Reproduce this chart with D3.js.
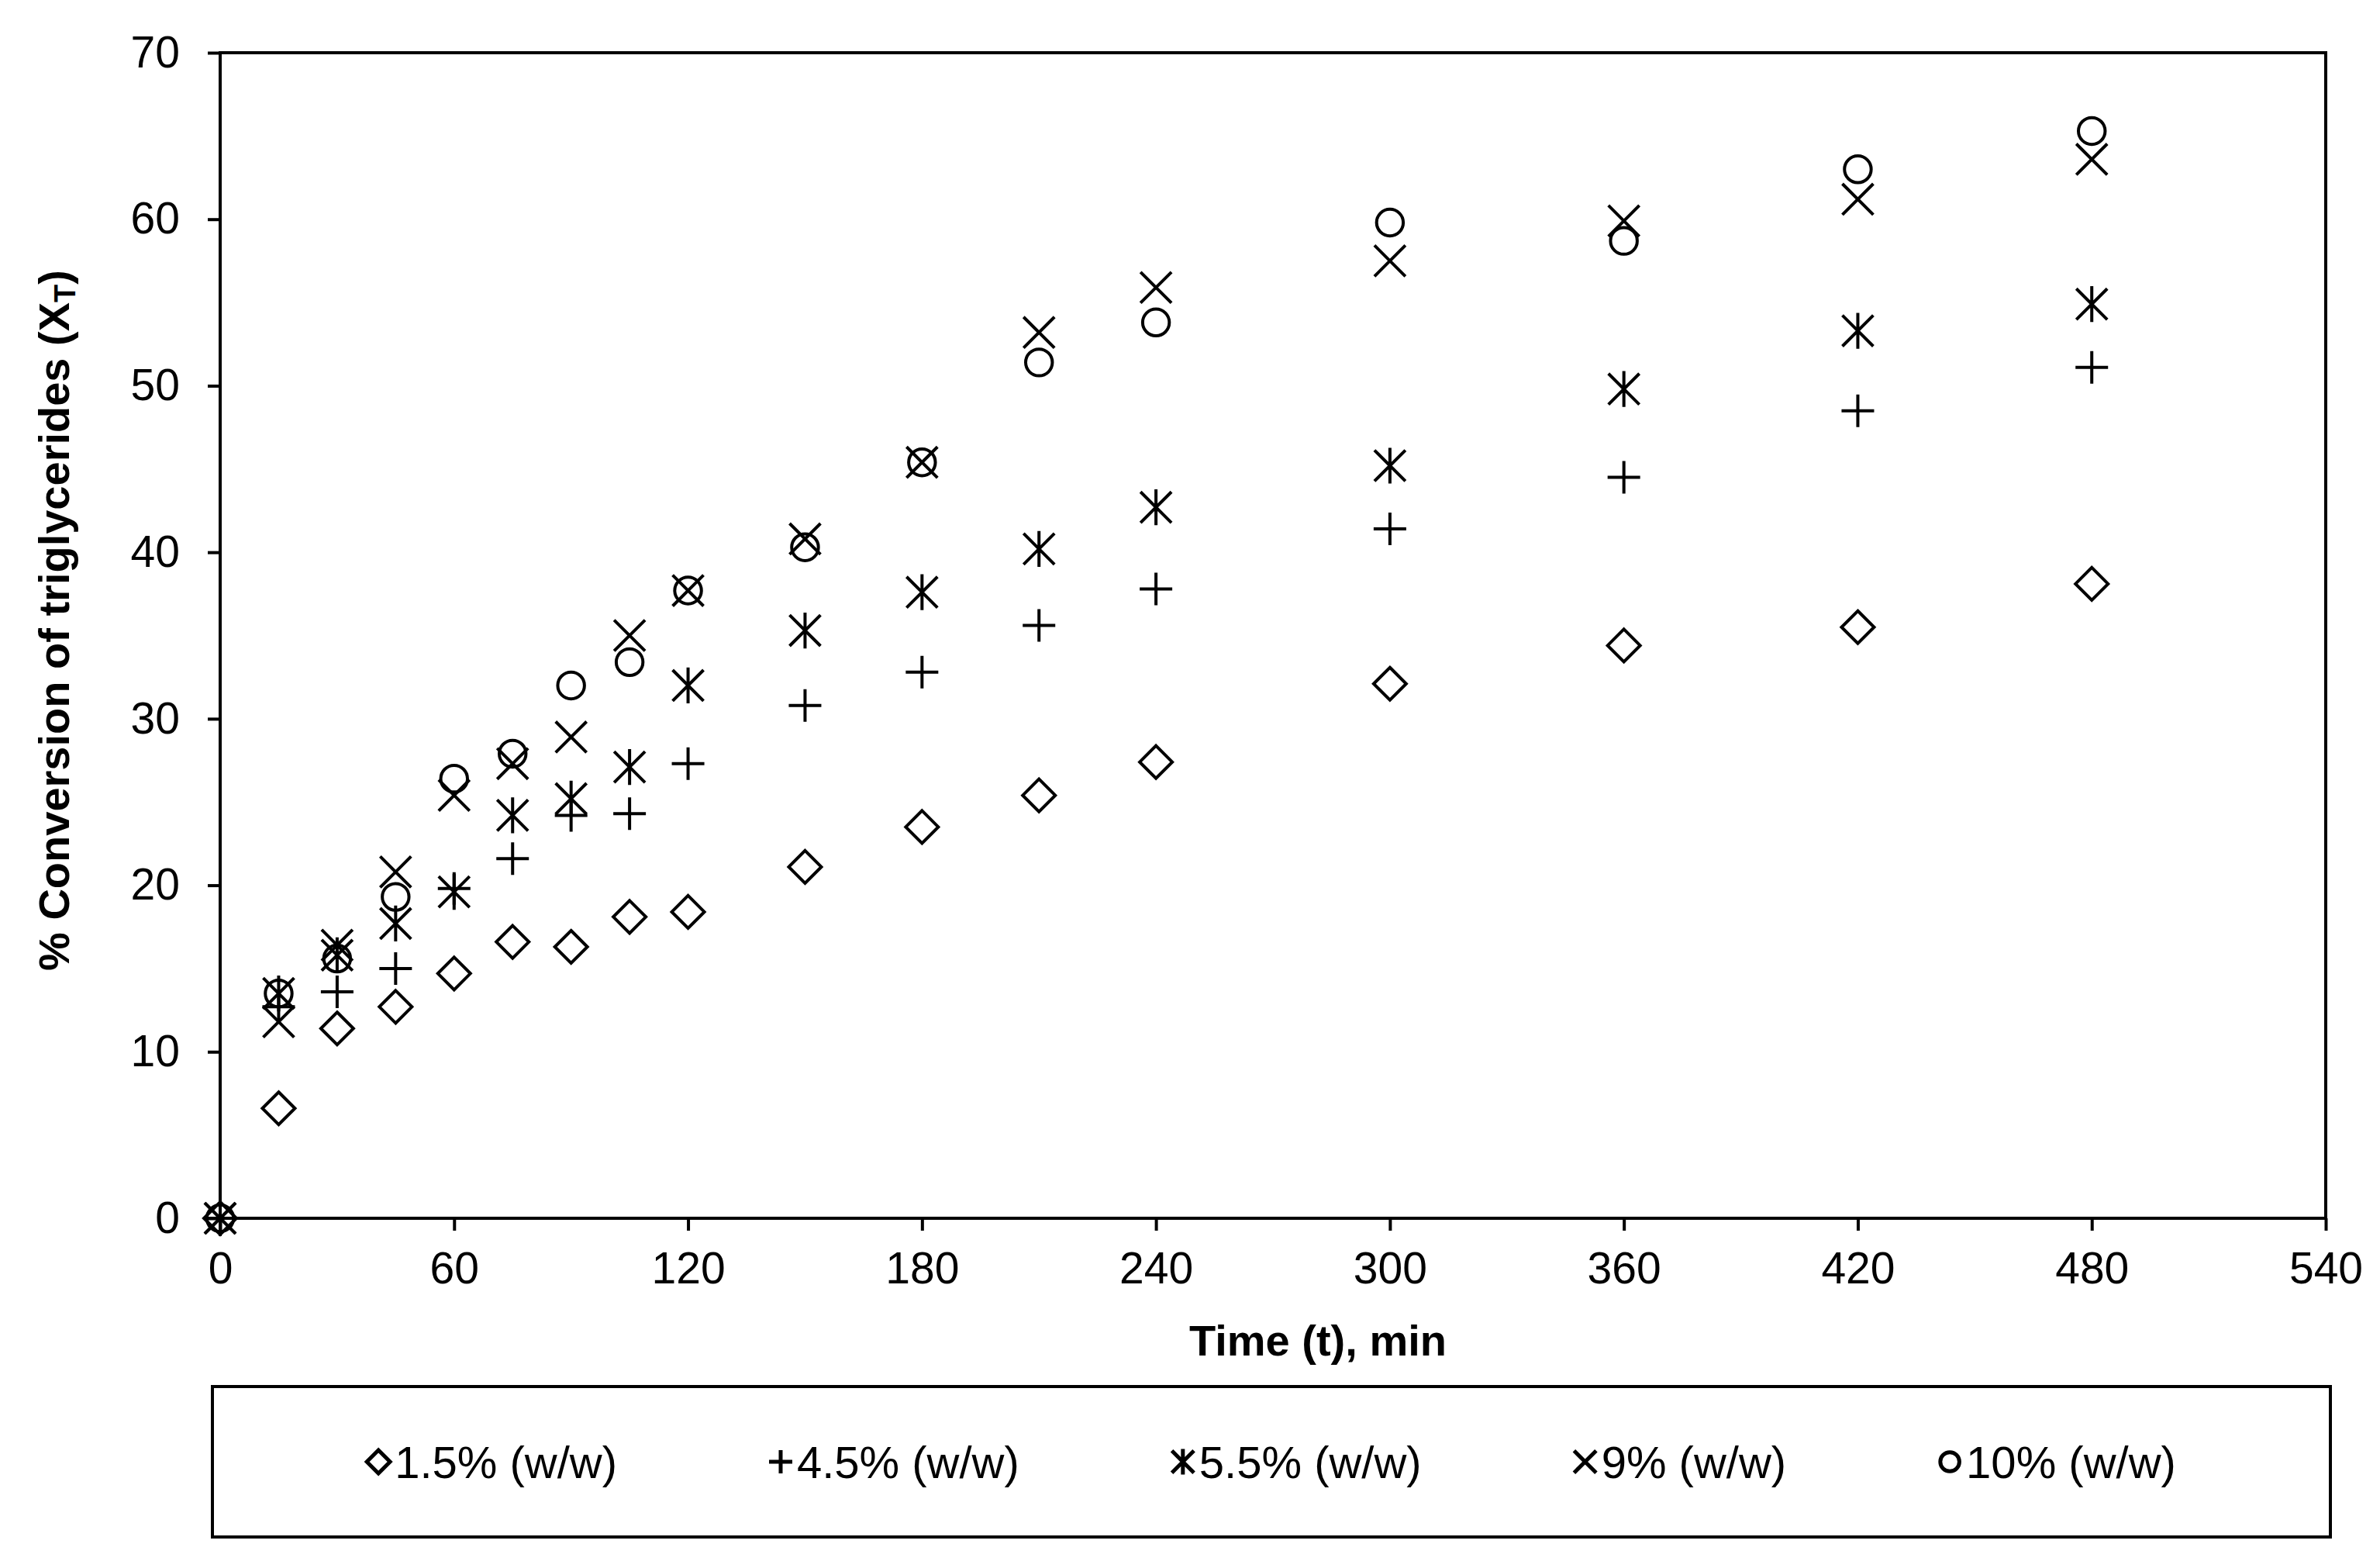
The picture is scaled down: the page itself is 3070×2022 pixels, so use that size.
<!DOCTYPE html>
<html lang="en">
<head>
    <meta charset="UTF-8">
    <title>Conversion of triglycerides</title>
    <script src="https://d3js.org/d3.v7.min.js"></script>
    <style>
        body { margin: 0; background: #fff; }
        text { font-family: "Liberation Sans", Arial, sans-serif; fill: #000; }
    </style>
</head>
<body>
    <svg width="3070" height="2022"></svg>

    <script>
        // reaction time, min
        const times = [0, 15, 30, 45, 60, 75, 90, 105, 120, 150, 180, 210, 240, 300, 360, 420, 480];

        // % conversion, one array per catalyst loading
        const conv1_5 = [0, 6.6, 11.4, 12.7, 14.7, 16.6, 16.3, 18.1, 18.4, 21.1, 23.5, 25.4, 27.4, 32.1, 34.4, 35.5, 38.1];
        const conv4_5 = [0, 12.7, 13.6, 15.0, 19.8, 21.6, 24.2, 24.3, 27.3, 30.8, 32.8, 35.6, 37.8, 41.4, 44.5, 48.5, 51.1];
        const conv5_5 = [0, 13.5, 15.8, 17.7, 19.6, 24.2, 25.2, 27.1, 32.0, 35.3, 37.6, 40.2, 42.7, 45.2, 49.8, 53.3, 54.9];
        const conv9 = [0, 11.8, 16.4, 20.8, 25.4, 27.3, 28.9, 35.0, 37.7, 40.8, 45.4, 53.2, 55.9, 57.5, 59.9, 61.2, 63.6];
        const conv10 = [0, 13.5, 15.6, 19.3, 26.4, 27.9, 32.0, 33.4, 37.7, 40.3, 45.4, 51.4, 53.8, 59.8, 58.7, 63.0, 65.3];

        const seriesNames = ['1.5% (w/w)', '4.5% (w/w)', '5.5% (w/w)', '9% (w/w)', '10% (w/w)'];
        const seriesValues = [conv1_5, conv4_5, conv5_5, conv9, conv10];
        const seriesMarkers = ['diamond', 'plus', 'star', 'times', 'circle'];

        const xTicks = d3.range(0, 541, 60);
        const yTicks = d3.range(0, 71, 10);

        // stroked marker shapes (excel style), r = half extent in px
        const markerPath = (type, r) => {
            const p = d3.path();
            if (type === 'diamond') {
                p.moveTo(0, -r); p.lineTo(r, 0); p.lineTo(0, r); p.lineTo(-r, 0); p.closePath();
            } else if (type === 'plus') {
                p.moveTo(-r, 0); p.lineTo(r, 0); p.moveTo(0, -r); p.lineTo(0, r);
            } else if (type === 'times') {
                const a = r * 0.95;
                p.moveTo(-a, -a); p.lineTo(a, a); p.moveTo(-a, a); p.lineTo(a, -a);
            } else if (type === 'star') {
                const a = r * 0.95;
                p.moveTo(-a, -a); p.lineTo(a, a); p.moveTo(-a, a); p.lineTo(a, -a);
                p.moveTo(0, -r * 1.1); p.lineTo(0, r * 1.1);
            } else {
                p.arc(0, 0, r * 0.82, 0, 2 * Math.PI);
            }
            return p.toString();
        };

        const svg = d3.select('svg');

        const x = d3.scaleLinear().domain([0, 540]).range([284, 3000]);
        const y = d3.scaleLinear().domain([0, 70]).range([1571, 68]);

        // axes
        const yAxis = svg.append('g')
            .attr('transform', `translate(${x(0)},0)`)
            .call(d3.axisLeft(y).tickValues(yTicks).tickSize(16).tickSizeOuter(0).tickPadding(36));
        const xAxis = svg.append('g')
            .attr('transform', `translate(0,${y(0)})`)
            .call(d3.axisBottom(x).tickValues(xTicks).tickSize(16).tickSizeOuter(0).tickPadding(28));

        [xAxis, yAxis].forEach(g => {
            g.selectAll('text').attr('font-size', 57).attr('font-family', '"Liberation Sans", Arial, sans-serif').attr('fill', '#000');
            g.selectAll('line').attr('stroke', '#000').attr('stroke-width', 4);
            g.select('.domain').remove();
        });

        // plot frame
        svg.append('rect')
            .attr('x', x(0))
            .attr('y', y(70))
            .attr('width', x(540) - x(0))
            .attr('height', y(0) - y(70))
            .attr('fill', 'none')
            .attr('stroke', '#000')
            .attr('stroke-width', 4);

        // markers
        seriesValues.forEach((vals, i) => {
            svg.append('g')
                .selectAll('path')
                .data(times.map((t, j) => [t, vals[j]]))
                .join('path')
                .attr('transform', d => `translate(${x(d[0])},${y(d[1])})`)
                .attr('d', markerPath(seriesMarkers[i], 21))
                .attr('fill', 'none')
                .attr('stroke', '#000')
                .attr('stroke-width', 4);
        });

        // axis titles
        svg.append('text')
            .attr('x', 1700)
            .attr('y', 1748)
            .attr('text-anchor', 'middle')
            .attr('font-size', 56)
            .attr('font-weight', 'bold')
            .text('Time (t), min');

        const yTitle = svg.append('text')
            .attr('transform', 'translate(89,800) rotate(-90)')
            .attr('text-anchor', 'middle')
            .attr('font-size', 56)
            .attr('font-weight', 'bold');
        yTitle.append('tspan').text('% Conversion of triglycerides (X');
        yTitle.append('tspan').attr('font-size', 38).attr('baseline-shift', '-20%').text('T');
        yTitle.append('tspan').text(')');

        // legend box
        const box = { x0: 274, x1: 3006, y0: 1788, y1: 1982 };
        svg.append('rect')
            .attr('x', box.x0)
            .attr('y', box.y0)
            .attr('width', box.x1 - box.x0)
            .attr('height', box.y1 - box.y0)
            .attr('fill', 'none')
            .attr('stroke', '#000')
            .attr('stroke-width', 4);

        const gap = 196;
        const legendRow = svg.append('g');
        const cy = (box.y0 + box.y1) / 2;
        let cursor = 0;
        seriesNames.forEach((name, i) => {
            const item = legendRow.append('g');
            item.append('path')
                .attr('transform', `translate(${cursor + 15},${cy})`)
                .attr('d', markerPath(seriesMarkers[i], 15))
                .attr('fill', 'none')
                .attr('stroke', '#000')
                .attr('stroke-width', 5);
            const label = item.append('text')
                .attr('x', cursor + 36)
                .attr('y', cy)
                .attr('dy', '0.36em')
                .attr('font-size', 58)
                .text(name);
            cursor += 36 + label.node().getComputedTextLength() + gap;
        });
        const rowWidth = cursor - gap;
        legendRow.attr('transform', `translate(${(box.x0 + box.x1) / 2 - rowWidth / 2},0)`);
    </script>
</body>
</html>
